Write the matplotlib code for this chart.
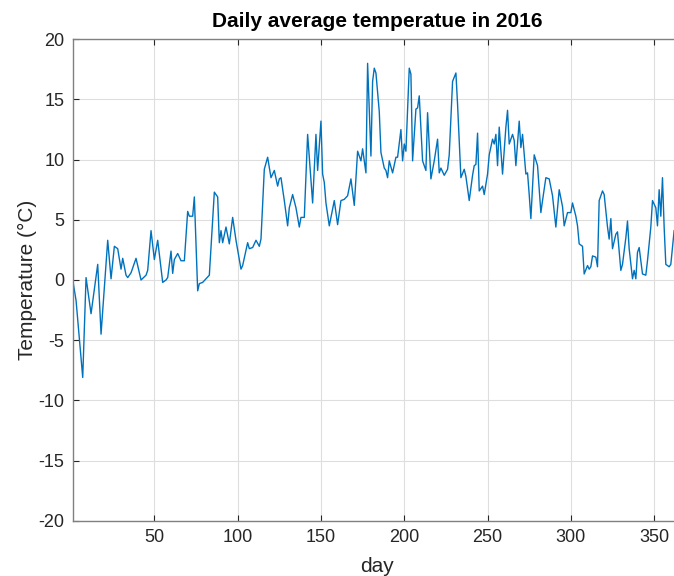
import matplotlib
matplotlib.use("Agg")
from matplotlib import pyplot as plt

# Daily mean temperature, 2016 (day of year -> deg C)
days = [1, 3, 7, 9, 12, 16, 18, 22, 24, 26, 28, 30, 31, 33, 34, 36, 39, 42, 45, 46,
        48, 50, 52, 55, 57, 58, 60, 61, 62, 64, 66, 68, 70, 71, 73, 74, 76, 77, 79, 81,
        83, 86, 88, 89, 90, 91, 93, 95, 97, 99, 102, 103, 106, 107, 109, 111, 113, 114, 116, 118,
        120, 122, 124, 125, 126, 128, 130, 131, 133, 135, 137, 138, 140, 142, 143, 145, 147, 148, 150, 151,
        152, 153, 155, 158, 160, 162, 164, 166, 168, 170, 172, 174, 175, 177, 178, 180, 181, 182, 183, 185,
        186, 188, 189, 190, 191, 193, 195, 196, 198, 199, 200, 201, 203, 204, 205, 207, 208, 209, 211, 213,
        214, 216, 218, 220, 221, 222, 224, 226, 227, 229, 231, 232, 234, 236, 237, 239, 241, 242, 243, 244,
        245, 247, 248, 250, 251, 253, 254, 255, 256, 257, 259, 261, 262, 263, 265, 266, 267, 269, 270, 271,
        273, 274, 275, 276, 278, 280, 282, 283, 285, 287, 289, 291, 293, 295, 296, 298, 300, 301, 303, 304,
        305, 307, 308, 310, 311, 312, 313, 315, 316, 317, 319, 320, 322, 323, 324, 325, 327, 328, 330, 331,
        333, 334, 335, 337, 338, 339, 340, 341, 343, 345, 346, 348, 349, 351, 352, 353, 354, 355, 356, 357,
        359, 360, 362]
temps = [0.0, -1.7, -8.1, 0.2, -2.8, 1.3, -4.5, 3.3, 0.1, 2.8, 2.6, 0.9, 1.8, 0.4, 0.2, 0.6, 1.8, 0.0, 0.4, 0.8,
         4.1, 1.7, 3.3, -0.2, 0.0, 0.2, 2.4, 0.55, 1.7, 2.2, 1.6, 1.6, 5.7, 5.3, 5.3, 6.9, -0.9, -0.3, -0.2, 0.1,
         0.4, 7.3, 6.9, 3.1, 4.1, 3.1, 4.4, 3.0, 5.2, 3.3, 0.9, 1.2, 3.1, 2.6, 2.7, 3.3, 2.8, 3.4, 9.2, 10.2,
         8.5, 9.1, 7.8, 8.4, 8.5, 6.6, 4.5, 6.0, 7.1, 6.0, 4.4, 5.2, 5.2, 12.1, 10.2, 6.4, 12.1, 9.1, 13.2, 8.8,
         8.1, 6.4, 4.5, 6.6, 4.6, 6.6, 6.7, 7.0, 8.4, 6.2, 10.7, 9.9, 10.9, 8.9, 18.0, 10.3, 16.5, 17.6, 17.2, 14.0,
         10.6, 9.3, 9.1, 8.5, 9.9, 8.9, 10.2, 10.2, 12.5, 9.9, 11.3, 10.7, 17.6, 17.1, 9.9, 14.2, 14.3, 15.3, 9.9, 9.1,
         13.9, 8.4, 9.9, 11.7, 8.9, 9.3, 8.7, 9.2, 10.4, 16.5, 17.2, 14.6, 8.5, 9.2, 8.6, 6.6, 8.7, 9.5, 9.6, 12.2,
         7.4, 7.8, 7.1, 8.8, 10.4, 11.7, 11.3, 12.1, 9.5, 12.7, 8.8, 12.7, 14.1, 11.3, 12.1, 11.6, 9.5, 13.2, 11.0, 12.1,
         8.8, 8.9, 7.1, 5.1, 10.4, 9.5, 5.6, 6.6, 8.5, 8.4, 7.0, 4.4, 7.5, 6.1, 4.5, 5.6, 5.6, 6.4, 5.3, 4.5,
         3.0, 2.8, 0.5, 1.2, 0.9, 1.1, 2.0, 1.9, 1.1, 6.6, 7.4, 7.1, 4.4, 3.4, 5.1, 2.6, 3.8, 4.0, 0.8, 1.3,
         3.5, 4.9, 2.6, 0.1, 0.8, 0.1, 2.3, 2.7, 0.5, 0.4, 1.6, 4.4, 6.6, 6.0, 4.5, 7.5, 5.3, 8.5, 4.4, 1.3,
         1.1, 1.3, 4.1]

xticks = [50, 100, 150, 200, 250, 300, 350]
yticks = [-20, -15, -10, -5, 0, 5, 10, 15, 20]

plt.rcParams['font.family'] = ['Liberation Sans', 'DejaVu Sans']
plt.rcParams['axes.unicode_minus'] = False
axis_grey = '#262626'

fig = plt.figure(figsize=(6.74, 5.76), dpi=100)
# x range runs to day 366, a little past the right edge of the figure
ax = fig.add_axes([0.1079, 0.096, 0.9022, 0.8358])

ax.plot(days, temps, color='#0072BD', linewidth=1.0)

ax.set_xlim(1, 366)
ax.set_ylim(-20, 20)
ax.set_xticks(xticks)
ax.set_yticks(yticks)
ax.tick_params(direction='in', length=4, width=0.8, colors=axis_grey,
               labelsize=13, top=True, right=True, pad=6)
for s in ax.spines.values():
    s.set_color('#808080')
    s.set_linewidth(1.0)

ax.grid(True, color='#dedede', linewidth=0.8)
ax.set_axisbelow(True)

ax.set_title('Daily average temperatue in 2016', fontsize=15, fontweight='bold',
             color='black', pad=9)
ax.set_xlabel('day', fontsize=15, color=axis_grey, labelpad=8)
ax.set_ylabel('Temperature (°C)', fontsize=15, color=axis_grey, labelpad=1)

fig.savefig('out.png', dpi=100)
